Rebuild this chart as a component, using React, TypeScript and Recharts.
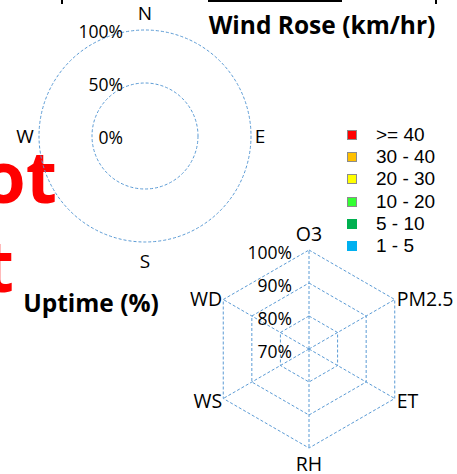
import React from 'react';
import { RadarChart, PolarGrid, PolarAngleAxis, PolarRadiusAxis, Radar } from 'recharts';

// ---- Wind rose data ----
const windDirections = ['N', 'E', 'S', 'W'];
const windBins = ['>= 40', '30 - 40', '20 - 30', '10 - 20', '5 - 10', '1 - 5'];
const windBinKeys = ['b40', 'b30', 'b20', 'b10', 'b5', 'b1'];
const windBinColors = ['#FF0000', '#FFC000', '#FFFF00', '#33FF33', '#00B050', '#00B0F0'];
const windBinBorders = ['#8c8c8c', '#8c8c8c', '#8c8c8c', '#8c8c8c', 'none', 'none'];
const windGe40 = [0, 0, 0, 0];
const wind30to40 = [0, 0, 0, 0];
const wind20to30 = [0, 0, 0, 0];
const wind10to20 = [0, 0, 0, 0];
const wind5to10 = [0, 0, 0, 0];
const wind1to5 = [0, 0, 0, 0];
const windRadiusTicks = [0, 50, 100];

// ---- Uptime data ----
const uptimeParams = ['O3', 'PM2.5', 'ET', 'RH', 'WS', 'WD'];
const uptimeValues = [70, 70, 70, 70, 70, 70];
const uptimeRadiusTicks = [70, 80, 90, 100];

const windSeries = [windGe40, wind30to40, wind20to30, wind10to20, wind5to10, wind1to5];
const windData = windDirections.map((d, i) => {
  const row: any = { dir: d };
  windBinKeys.forEach((k, j) => { row[k] = windSeries[j][i]; });
  return row;
});
const uptimeData = uptimeParams.map((p, i) => ({ param: p, value: uptimeValues[i] }));

const W_CX = 145, W_CY = 136, W_R = 106;
const U_CX = 309, U_CY = 349, U_R = 99;
const GRID = '#5B9BD5';
const FONT = '"Open Sans", "Noto Sans", sans-serif';

const windLabelDist: Record<string, number> = { N: 123, E: 115, S: 125, W: 120 };

const WindAngleTick = (props: any) => {
  const { payload } = props;
  const a = (payload.coordinate * Math.PI) / 180;
  const d = windLabelDist[payload.value] ?? 120;
  const x = W_CX + d * Math.cos(a);
  const y = W_CY - d * Math.sin(a);
  return (
    <text x={x} y={y} textAnchor="middle" dominantBaseline="central" fontFamily={FONT} fontSize={19} fill="#000">
      {payload.value}
    </text>
  );
};

const WindRadiusTick = (props: any) => {
  const { y, payload } = props;
  return (
    <text x={W_CX - 22} y={y + 1} textAnchor="end" dominantBaseline="central" fontFamily={FONT} fontSize={17.5} fill="#000">
      {payload.value}%
    </text>
  );
};

const UptimeAngleTick = (props: any) => {
  const { payload } = props;
  const a = (payload.coordinate * Math.PI) / 180;
  const vx = U_CX + U_R * Math.cos(a);
  const vy = U_CY - U_R * Math.sin(a);
  const c = Math.cos(a);
  const s = Math.sin(a);
  let x = vx, y = vy, anchor: any = 'middle';
  if (Math.abs(c) < 0.1) {
    y = vy + (s > 0 ? -17 : 15);
  } else {
    anchor = c > 0 ? 'start' : 'end';
    x = vx + (c > 0 ? 2 : -1);
    y = vy + (s > 0 ? -1 : 2);
  }
  return (
    <text x={x} y={y} textAnchor={anchor} dominantBaseline="central" fontFamily={FONT} fontSize={19.5} fill="#000">
      {payload.value}
    </text>
  );
};

const UptimeRadiusTick = (props: any) => {
  const { y, payload } = props;
  return (
    <text x={U_CX - 17} y={y + 1.5} textAnchor="end" dominantBaseline="central" fontFamily={FONT} fontSize={17.5} fill="#000">
      {payload.value}%
    </text>
  );
};

export default function App() {
  return (
    <div style={{ position: 'absolute', left: 0, top: 0, width: 457, height: 474, overflow: 'hidden', background: '#fff' }}>
      {/* decorations */}
      <div style={{ position: 'absolute', left: 208, top: -20, width: 134, height: 22, boxSizing: 'border-box', border: '2px solid #000' }} />
      <div style={{ position: 'absolute', left: 61, top: 0, width: 2, height: 4, background: '#000' }} />
      <div style={{ position: 'absolute', left: 435, top: 0, width: 2, height: 4, background: '#000' }} />
      <svg width={457} height={474} style={{ position: 'absolute', left: 0, top: 0 }}>
        <text x={57} y={203} textAnchor="end" fontFamily={FONT} fontWeight={700} fontSize={72} fill="#FF0000">ot</text>
        <text x={14} y={292} textAnchor="end" fontFamily={FONT} fontWeight={700} fontSize={72} fill="#FF0000">t</text>
        <text x={322} y={24} textAnchor="middle" dominantBaseline="central" fontFamily={FONT} fontWeight={700} fontSize={24.5} fill="#000">Wind Rose (km/hr)</text>
        <text x={91} y={302} textAnchor="middle" dominantBaseline="central" fontFamily={FONT} fontWeight={700} fontSize={24.5} fill="#000">Uptime (%)</text>
      </svg>

      <div style={{ position: 'absolute', left: 0, top: 0 }}>
        <RadarChart width={300} height={290} data={windData} cx={W_CX} cy={W_CY} outerRadius={W_R}
          margin={{ top: 0, right: 0, bottom: 0, left: 0 }}>
          <PolarGrid gridType="circle" radialLines={false} stroke={GRID} strokeDasharray="3 2" />
          <PolarAngleAxis dataKey="dir" tick={WindAngleTick} tickLine={false} axisLine={false} />
          <PolarRadiusAxis angle={90} domain={[0, 100]} ticks={windRadiusTicks} tickCount={3} tick={WindRadiusTick} axisLine={false} />
          {windBinKeys.map((k, i) => (
            <Radar key={k} name={windBins[i]} dataKey={k} stroke="none" fill={windBinColors[i]} fillOpacity={1} isAnimationActive={false} />
          ))}
        </RadarChart>
      </div>

      <div style={{ position: 'absolute', left: 0, top: 0 }}>
        <RadarChart width={457} height={474} data={uptimeData} cx={U_CX} cy={U_CY} outerRadius={U_R}
          margin={{ top: 0, right: 0, bottom: 0, left: 0 }}>
          <PolarGrid gridType="polygon" radialLines={true} stroke={GRID} strokeDasharray="3 2" />
          <PolarAngleAxis dataKey="param" tick={UptimeAngleTick} tickLine={false} axisLine={false} />
          <PolarRadiusAxis angle={90} domain={[70, 100]} ticks={uptimeRadiusTicks} tickCount={4} tick={UptimeRadiusTick} axisLine={false} />
          <Radar name="Uptime" dataKey="value" stroke="none" fill="#5B9BD5" fillOpacity={0} isAnimationActive={false} />
        </RadarChart>
      </div>

      {/* legend */}
      <div style={{ position: 'absolute', left: 347, top: 124, fontFamily: '"Liberation Sans", Arial, sans-serif', fontSize: 19, color: '#000' }}>
        {windBins.map((b, i) => (
          <div key={b} style={{ display: 'flex', alignItems: 'center', height: 22.2 }}>
            <div style={{ width: 10, height: 10, boxSizing: 'border-box', background: windBinColors[i], border: windBinBorders[i] === 'none' ? 'none' : `1px solid ${windBinBorders[i]}` }} />
            <span style={{ marginLeft: 19, lineHeight: '22px' }}>{b}</span>
          </div>
        ))}
      </div>
    </div>
  );
}
